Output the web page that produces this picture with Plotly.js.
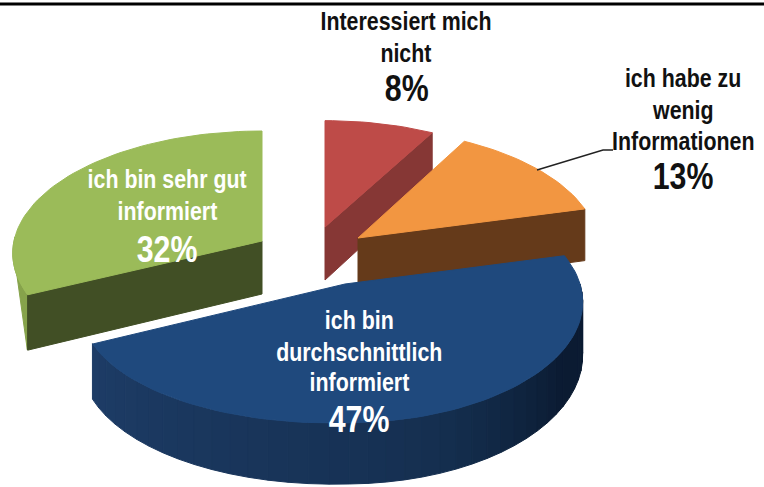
<!DOCTYPE html>
<html>
<head>
<meta charset="utf-8">
<script src="https://cdn.plot.ly/plotly-3.0.1.min.js"></script>
<style>html,body{margin:0;padding:0;background:#fff}</style>
</head>
<body>
<div id="chart" style="width:764px;height:487px"></div>
<script>
// Data
const categories = ["Interessiert mich nicht", "ich habe zu wenig Informationen", "ich bin durchschnittlich informiert", "ich bin sehr gut informiert"];
const shares = [8, 13, 47, 32];
const labelLines = [["Interessiert mich", "nicht"], ["ich habe zu", "wenig", "Informationen"], ["ich bin", "durchschnittlich", "informiert"], ["ich bin sehr gut", "informiert"]];

// Drawing model (perspective projection of each exploded slice)
const views = [
  {cx:325, cy:227, R:242, Rl:242, Ry:117, k:.10, tilt:0, depth:53, top:"#BE4B48", cut:"#863735", rim:"#863735", rimFrom:0, rimTo:0, ink:"#111111",
   ly:[21,53], py:88, lx:406},
  {cx:358, cy:238, R:240, Rl:240, Ry:120, k:.10, tilt:0, depth:53, top:"#F29641", cut:"#653A1A", rim:"#653A1A", rimFrom:0, rimTo:0, ink:"#111111",
   ly:[78,110,141], py:176, lx:683},
  {cx:345, cy:284, R:235, Rl:261, Ry:118, k:.15, tilt:7, depth:52, top:"#1F497D", cut:"#1F497D", rim:null, rimFrom:90, rimTo:245, ink:"#ffffff",
   ly:[320,352,382], py:419, lx:359},
  {cx:262, cy:241, R:248, Rl:248, Ry:121, k:.10, tilt:0, depth:53, top:"#9BBB59", cut:"#414F25", rim:"#86A34B", rimFrom:245, rimTo:272, ink:"#ffffff",
   ly:[179,211], py:249, lx:167}
];
const labelFont = "'Liberation Sans', Arial, sans-serif";

function project(v, deg, drop) {
  const a = deg * Math.PI / 180, X = Math.sin(a), Z = Math.cos(a);
  const s = 1 / (1 + v.k * Z);
  return [v.cx + X * (X < 0 ? v.Rl : v.R) * s,
          v.cy - Z * v.Ry * s + (X < 0 ? -X * v.tilt : 0) + drop * s];
}
function arc(v, from, to, drop) {
  const pts = [], n = Math.max(2, Math.ceil(Math.abs(to - from) / 2));
  for (let i = 0; i <= n; i++) pts.push(project(v, from + (to - from) * i / n, drop));
  return pts;
}
function poly(pts, color, name) {
  const closed = pts.concat([pts[0]]);
  return {type:"scatter", mode:"lines", name:name, fill:"toself", fillcolor:color,
          x:closed.map(p => p[0]), y:closed.map(p => p[1]),
          line:{color:color, width:1}, hoverinfo:"name", showlegend:false};
}
function mix(c1, c2, t) {
  return "rgb(" + c1.map((c, i) => Math.round(c + (c2[i] - c) * t)).join(",") + ")";
}

const traces = [];
let start = 0;
const total = shares.reduce((a, b) => a + b, 0);
const spans = shares.map(v => { const s = [start, start + v / total * 360]; start = s[1]; return s; });

// paint order: back slices first, blue one in front
[0, 1, 3, 2].forEach(i => {
  const v = views[i], name = categories[i], from = spans[i][0], to = spans[i][1];
  const apex = [v.cx, v.cy];
  if (i === 2) {
    const n = 40, c1 = [29, 60, 102], c2 = [21, 47, 80], c3 = [11, 27, 50];
    for (let j = 0; j < n; j++) {
      const a = v.rimTo + (v.rimFrom - v.rimTo) * j / n, b = v.rimTo + (v.rimFrom - v.rimTo) * (j + 1) / n;
      const t = j / (n - 1);
      const col = t < .55 ? mix(c1, c2, t / .55) : mix(c2, c3, Math.min(1, (t - .55) / .25));
      traces.push(poly(arc(v, a, b, 0).concat(arc(v, b, a, v.depth)), col, name));
    }
  } else {
    if (v.rimTo > v.rimFrom) traces.push(poly(arc(v, v.rimFrom, v.rimTo, 0).concat([project(v, v.rimTo, 25), project(v, v.rimFrom, v.depth)]), v.rim, name));
    // visible cut face
    const edge = i === 3 ? from : to;
    traces.push(poly([apex, project(v, edge, 0), project(v, edge, v.depth), [apex[0], apex[1] + v.depth]], v.cut, name));
  }
  traces.push(poly([apex].concat(arc(v, from, to, 0)), v.top, name));
});

const annotations = [];
views.forEach((v, i) => {
  labelLines[i].forEach((t, j) => annotations.push({
    x:v.lx, y:v.ly[j], xref:"x", yref:"y", text:"<b>" + t + "</b>", showarrow:false,
    font:{family:labelFont, size:25, color:v.ink},
    xanchor:"center", yanchor:"middle"
  }));
  annotations.push({
    x:v.lx, y:v.py, xref:"x", yref:"y", text:"<b>" + shares[i] + "%</b>", showarrow:false,
    font:{family:labelFont, size:37, color:v.ink},
    xanchor:"center", yanchor:"middle"
  });
});

const layout = {
  width:764, height:487,
  margin:{l:0, r:0, t:0, b:0},
  paper_bgcolor:"#ffffff", plot_bgcolor:"#ffffff",
  xaxis:{range:[0,764], visible:false, fixedrange:true},
  yaxis:{range:[487,0], visible:false, fixedrange:true},
  showlegend:false,
  annotations:annotations,
  shapes:[
    {type:"line", xref:"paper", yref:"y", x0:0, x1:1, y0:4, y1:4, line:{color:"#000000", width:3}},
    {type:"path", xref:"x", yref:"y", path:"M537,170 L603,150 L613,150", line:{color:"#222222", width:1.5}}
  ]
};
Plotly.newPlot("chart", traces, layout, {staticPlot:true, displayModeBar:false}).then(gd => {
  // the reference uses a condensed face: narrow the real text horizontally
  gd.querySelectorAll(".annotation-text").forEach(el => {
    const sx = el.textContent.endsWith("%") ? 0.82 : 0.855;
    const b = el.getBBox(), c = b.x + b.width / 2;
    const prev = el.getAttribute("transform") || "";
    el.setAttribute("transform", prev + " translate(" + c + ",0) scale(" + sx + ",1) translate(" + (-c) + ",0)");
  });
});
</script>
</body>
</html>
